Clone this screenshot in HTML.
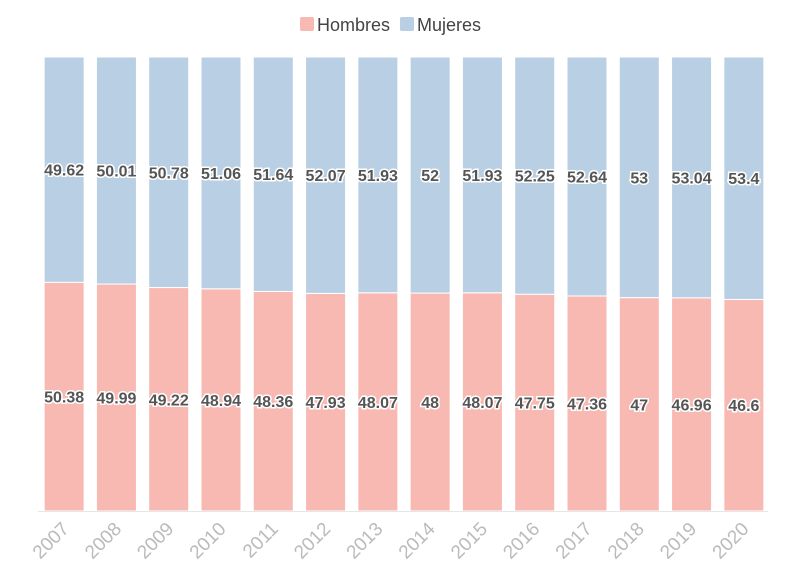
<!DOCTYPE html>
<html><head><meta charset="utf-8">
<style>
html,body{margin:0;padding:0;background:#fff;}
svg{display:block;font-family:"Liberation Sans",sans-serif;}
.lbl{font-size:16px;font-weight:bold;fill:#555;stroke:#fff;stroke-width:3px;paint-order:stroke;text-anchor:middle;}
.yr{font-size:19px;fill:#bbb;text-anchor:end;}
</style></head>
<body>
<svg id="chart" width="796" height="575">
<g>
  <rect x="300" y="17" width="14" height="14" rx="2" fill="#f9b9b3"/>
  <text x="317" y="31" font-size="18" fill="#444">Hombres</text>
  <rect x="400" y="17" width="14" height="14" rx="2" fill="#b8cfe4"/>
  <text x="417" y="31" font-size="18" fill="#444">Mujeres</text>
</g>
<g id="bars"></g>
<line x1="38" y1="511.5" x2="768" y2="511.5" stroke="#e6e6e6"/>
</svg>
<script>
const years = ["2007","2008","2009","2010","2011","2012","2013","2014","2015","2016","2017","2018","2019","2020"];
const hombres = [50.38,49.99,49.22,48.94,48.36,47.93,48.07,48,48.07,47.75,47.36,47,46.96,46.6];
const mujeres = [49.62,50.01,50.78,51.06,51.64,52.07,51.93,52,51.93,52.25,52.64,53,53.04,53.4];

const NS="http://www.w3.org/2000/svg";
const barsG=document.getElementById('bars');
const plotTop=57, plotBottom=511, plotLeft=38, plotRight=770;
const step=(plotRight-plotLeft)/years.length, bw=40;
const xPos=i=>plotLeft+step*i+(step-bw)/2;
const yScale=v=>plotBottom-(plotBottom-plotTop)*v/100;
function mk(t,a){const e=document.createElementNS(NS,t);for(const k in a)e.setAttribute(k,a[k]);return e;}
years.forEach((yr,i)=>{
  const x=xPos(i);
  const tot=hombres[i]+mujeres[i];
  const hTop=yScale(hombres[i]/tot*100);
  const r1=mk('rect',{x:x,y:hTop,width:bw,height:plotBottom-hTop,fill:'#f9b9b3',stroke:'#fff','stroke-width':1});
  
  
  barsG.appendChild(r1);
  const r2=mk('rect',{x:x,y:plotTop,width:bw,height:hTop-plotTop,fill:'#b8cfe4',stroke:'#fff','stroke-width':1});
  
  
  barsG.appendChild(r2);
  const t1=mk('text',{x:x+bw/2,y:(hTop+plotBottom)/2+6,class:'lbl'});
  t1.textContent=String(hombres[i]);
  
  
  barsG.appendChild(t1);
  const t2=mk('text',{x:x+bw/2,y:(plotTop+hTop)/2+6,class:'lbl'});
  t2.textContent=String(mujeres[i]);
  
  
  barsG.appendChild(t2);
  const cx=x+bw/2+6, cy=530;
  const ty=mk('text',{x:cx,y:cy,class:'yr',transform:'rotate(-45 '+cx+' '+cy+')'});
  ty.textContent=yr;
  
  
  barsG.appendChild(ty);
});
</script>
</body></html>
